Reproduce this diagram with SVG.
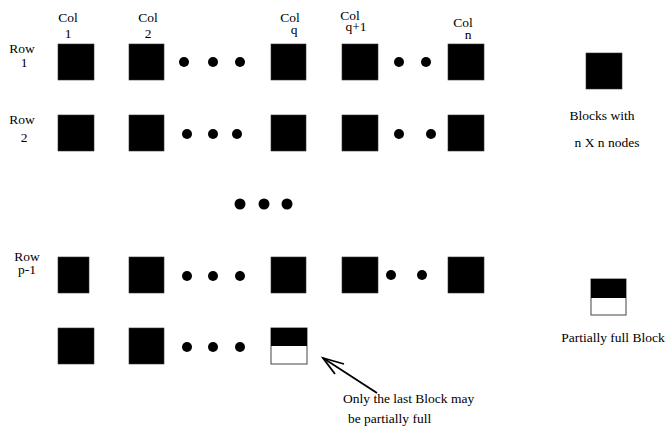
<svg xmlns="http://www.w3.org/2000/svg" width="669" height="433" viewBox="0 0 669 433">
<style>
text{font-family:"Liberation Serif","Times New Roman",serif;font-size:13.5px;fill:#000}
.c{text-anchor:middle}
.b{fill:#000;stroke:#333;stroke-width:0.6}
.d{fill:#000}
.p{fill:#fff;stroke:#444;stroke-width:1}
</style>
<rect width="669" height="433" fill="#fff"/>
<g id="labels">
<text x="68" y="22" class="c">Col</text><text x="68" y="38" class="c">1</text>
<text x="148" y="22" class="c">Col</text><text x="148" y="38" class="c">2</text>
<text x="290" y="22" class="c">Col</text><text x="294" y="34" class="c">q</text>
<text x="350" y="20" class="c">Col</text><text x="356" y="31" class="c">q+1</text>
<text x="463" y="27" class="c">Col</text><text x="468" y="39" class="c">n</text>
<text x="22" y="53" class="c">Row</text><text x="24" y="67" class="c">1</text>
<text x="22" y="124" class="c">Row</text><text x="24" y="142" class="c">2</text>
<text x="27" y="261" class="c">Row</text><text x="27" y="274" class="c">p-1</text>
</g>
<g id="row1">
<rect class="b" x="58" y="44" width="36" height="36"/>
<rect class="b" x="129" y="44" width="35" height="36"/>
<rect class="b" x="271" y="44" width="35" height="36"/>
<rect class="b" x="342" y="44" width="36" height="36"/>
<rect class="b" x="448" y="44" width="36" height="36"/>
<circle class="d" cx="184" cy="62" r="5"/><circle class="d" cx="213" cy="62" r="5"/><circle class="d" cx="240" cy="62" r="5"/>
<circle class="d" cx="399" cy="62" r="5"/><circle class="d" cx="426" cy="62" r="5"/>
</g>
<g id="row2">
<rect class="b" x="58" y="115" width="36" height="36"/>
<rect class="b" x="129" y="115" width="35" height="36"/>
<rect class="b" x="271" y="115" width="35" height="36"/>
<rect class="b" x="342" y="115" width="36" height="36"/>
<rect class="b" x="448" y="115" width="36" height="36"/>
<circle class="d" cx="187" cy="134" r="5"/><circle class="d" cx="213" cy="134" r="5"/><circle class="d" cx="237" cy="134" r="5"/>
<circle class="d" cx="399" cy="134" r="5"/><circle class="d" cx="431" cy="134" r="5"/>
</g>
<g id="vdots">
<circle class="d" cx="240" cy="204" r="5.5"/><circle class="d" cx="264" cy="204" r="5.5"/><circle class="d" cx="287" cy="204" r="5.5"/>
</g>
<g id="rowp1">
<rect class="b" x="58" y="257" width="31" height="36"/>
<rect class="b" x="129" y="257" width="35" height="36"/>
<rect class="b" x="271" y="257" width="35" height="36"/>
<rect class="b" x="342" y="257" width="36" height="36"/>
<rect class="b" x="448" y="257" width="36" height="36"/>
<circle class="d" cx="187" cy="276" r="5"/><circle class="d" cx="213" cy="276" r="5"/><circle class="d" cx="240" cy="276" r="5"/>
<circle class="d" cx="391" cy="275" r="5"/><circle class="d" cx="422" cy="275" r="5"/>
</g>
<g id="rowp">
<rect class="b" x="58" y="328" width="36" height="36"/>
<rect class="b" x="129" y="328" width="35" height="36"/>
<circle class="d" cx="187" cy="347" r="5"/><circle class="d" cx="213" cy="347" r="5"/><circle class="d" cx="240" cy="347" r="5"/>
<rect class="p" x="271" y="328" width="36" height="36"/>
<rect x="271" y="328" width="36" height="18" fill="#000"/>
</g>
<g id="legend-full">
<rect class="b" x="586" y="53" width="36" height="36"/>
<text x="602" y="120" class="c">Blocks with</text>
<text x="607" y="147" class="c">n X n nodes</text>
</g>
<g id="legend-partial">
<rect class="p" x="591" y="279" width="35" height="36"/>
<rect x="591" y="279" width="35" height="19" fill="#000"/>
<text x="613" y="342" class="c">Partially full Block</text>
</g>
<g id="connectors" stroke="#000" stroke-width="1.8" fill="none">
<line x1="377" y1="393" x2="323" y2="358"/>
<polyline points="344,364 323,358 335,374"/>
</g>
<g id="note">
<text x="343" y="403">Only the last Block may</text>
<text x="348" y="423">be partially full</text>
</g>
</svg>
